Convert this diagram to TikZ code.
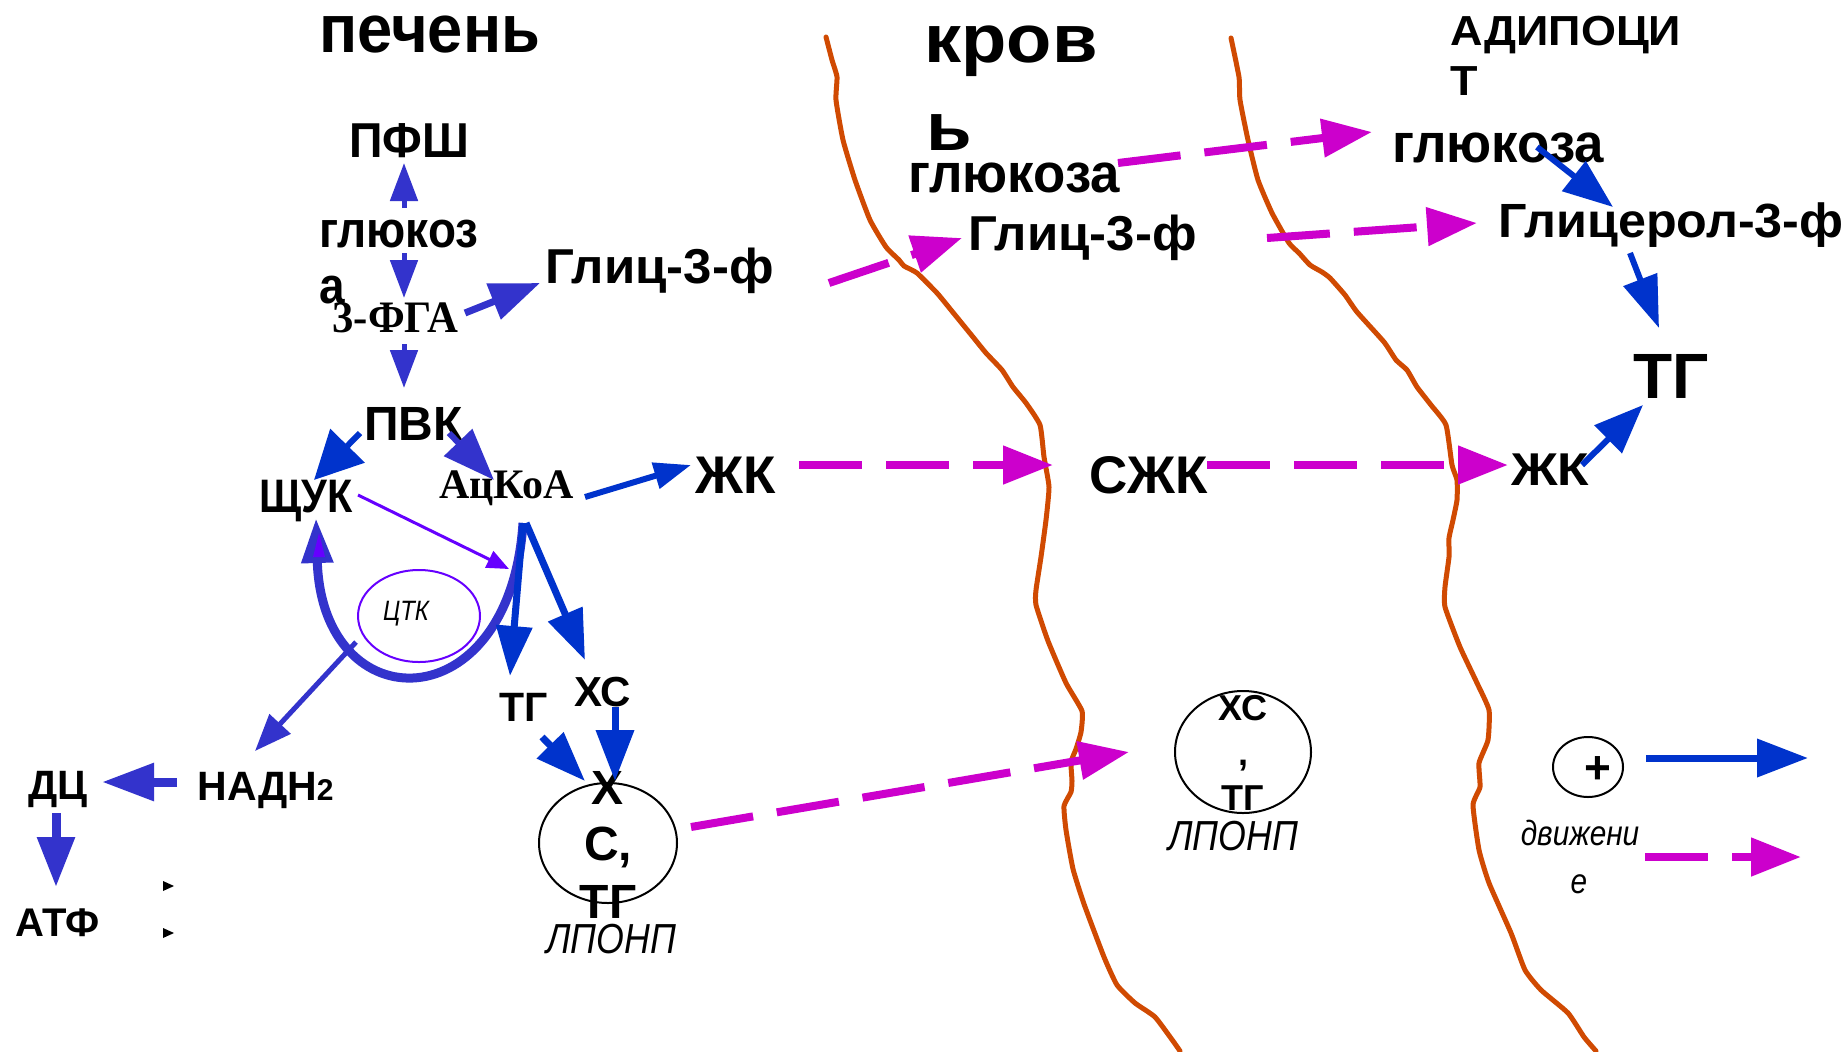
\documentclass[tikz,border=0pt]{standalone}
\usepackage{fontspec}
\setmainfont{Liberation Sans}
\newfontfamily\serifb{Liberation Serif}
\newfontfamily\hand[FakeStretch=0.85]{Liberation Sans}
\usetikzlibrary{arrows.meta,shapes.geometric,calc}
\definecolor{cA}{HTML}{3333CC}
\definecolor{cB}{HTML}{0033CC}
\definecolor{cV}{HTML}{6600FF}
\definecolor{cM}{HTML}{CC00CC}
\definecolor{cO}{HTML}{D04A02}
\newcommand\fsz[1]{\fontsize{#1}{#1}\selectfont}
\newcommand\hsc[2]{\scalebox{#1}[1]{#2}}
\begin{document}
\begin{tikzpicture}[x=0.5pt,y=-0.5pt,
  tx/.style={inner sep=0pt, anchor=base west, font=\bfseries\fsz{#1}},
  txc/.style={inner sep=0pt, anchor=base, font=\bfseries\fsz{#1}},
  sf/.style={inner sep=0pt, anchor=base west, font=\serifb\bfseries\fsz{#1}},
  hw/.style={inner sep=0pt, anchor=base west, font=\hand\itshape\fsz{#1}},
  arr/.style n args={4}{draw=#1, line width=#2, -{Triangle[length=#3,width=#4]}},
  dsh/.style={draw=cM, line width=4pt, dash pattern=on 31.5pt off 12pt, -{Triangle[length=25pt,width=18.5pt]}},
  memb/.style={draw=cO, line width=2.5pt, line join=round, line cap=round},
  ring/.style={draw, ellipse, inner sep=0pt, line width=1pt}
]
\fill[white] (0,0) rectangle (1848,1051);
\useasboundingbox (0,0) rectangle (1848,1051);

% membranes
\draw[memb] plot[smooth, tension=0.3] coordinates {(826,37) (832,60) (837,77) (836,100) (843,140) (855,180) (870,220) (886,247) (899,260) (904,266) (917,273) (937,293) (951,310) (973,337) (986,353) (1002,370) (1013,387) (1026,403) (1040,425) (1044,457) (1049,487) (1046,520) (1041,557) (1036,590) (1036,605) (1048,641) (1066,683) (1082,711) (1081,732) (1076,749) (1071,762) (1072,781) (1071,792) (1064,806) (1066,830) (1073,869) (1084,904) (1104,957) (1117,985) (1135,1003) (1155,1017) (1173,1041) (1180,1051)};
\draw[memb] plot[smooth, tension=0.3] coordinates {(1231,38) (1239,77) (1240,100) (1248,140) (1258,180) (1272,213) (1289,243) (1299,253) (1310,265) (1322,272) (1330,278) (1345,295) (1357,312) (1384,342) (1396,360) (1407,370) (1417,387) (1431,405) (1446,425) (1452,465) (1457,480) (1457,500) (1453,520) (1449,538) (1449,557) (1445,587) (1445,607) (1460,647) (1477,683) (1489,710) (1488,740) (1479,763) (1480,787) (1473,805) (1479,850) (1489,883) (1511,933) (1525,970) (1541,990) (1568,1013) (1584,1037) (1596,1051)};

% liver
\node[tx=34] (pech) at (319,52) {\hsc{0.93}{печень}};
\node[tx=24.5] (pfsh) at (349,157) {\hsc{0.95}{ПФШ}};
\node[tx=25.5] (glc) at (319,247) {\hsc{0.9}{глюкоз}};
\node[tx=25.5] (glcA) at (319,303) {\hsc{0.9}{а}};
\node[sf=22.5] (fga) at (332,332) {\hsc{0.95}{3-ФГА}};
\node[tx=24.5] (glic1) at (545,283) {\hsc{1.04}{Глиц-3-ф}};
\node[tx=24] (pvk) at (364,440) {ПВК};
\node[tx=23.5] (shchuk) at (259,512) {\hsc{0.88}{ЩУК}};
\node[sf=21] (ackoa) at (439,498) {АцКоА};
\node[tx=26.5] (zk1) at (695,493) {ЖК};
\node[tx=20.5] (tg1) at (499,721) {ТГ};
\node[tx=21] (xc1) at (574,706) {ХС};
\node[tx=20.5] (dc) at (28,799) {ДЦ};
\node[tx=20.5] (nadh) at (197,800) {НАДН{\fsz{15}2}};
\node[tx=20] (atf) at (15,936) {АТФ};
\node[ring, minimum width=69pt, minimum height=60pt] (c1) at (608,843) {};
\node[txc=24] (c1x) at (608,804) {Х};
\node[txc=24] (c1s) at (608,860) {С,};
\node[txc=24] (c1t) at (608,918) {ТГ};
\node[hw=21] (lp1) at (546,953) {ЛПОНП};
\node[ring, draw=cV, minimum width=61pt, minimum height=46pt] (ctk) at (419,616) {};
\node[inner sep=0pt, font=\hand\itshape\fsz{14}] (ctkt) at (406,614) {ЦТК};
\fill (163,881) -- (163,891) -- (174,886) -- cycle;
\fill (163,928) -- (163,938) -- (174,933) -- cycle;

% blood
\node[tx=34] (krov) at (924,62) {\hsc{1.09}{кров}};
\node[tx=34] (krovb) at (926,150) {\hsc{1.09}{ь}};
\node[tx=27.5] (glcb) at (908,192) {\hsc{0.96}{глюкоза}};
\node[tx=24.5] (glicb) at (968,250) {\hsc{1.04}{Глиц-3-ф}};
\node[tx=26.5] (szk) at (1089,493) {СЖК};
\node[ring, minimum width=68pt, minimum height=61pt] (c2) at (1243,752) {};
\node[txc=18] (c2x) at (1243,720) {ХС};
\node[txc=18] (c2c) at (1243,765) {,};
\node[txc=18] (c2t) at (1243,810) {ТГ};
\node[hw=21] (lp2) at (1168,850) {ЛПОНП};

% adipocyte
\node[tx=21] (adi) at (1450,45) {\hsc{1.07}{АДИПОЦИ}};
\node[tx=21] (adiT) at (1450,95) {\hsc{1.07}{Т}};
\node[tx=27.5] (glca) at (1392,162) {\hsc{0.96}{глюкоза}};
\node[tx=24] (glicer) at (1498,237) {\hsc{1.047}{Глицерол-3-ф}};
\node[tx=32] (tg2) at (1633,398) {ТГ};
\node[tx=23] (zk2) at (1511,485) {\hsc{1.12}{ЖК}};

% legend
\node[ring, minimum width=35pt, minimum height=30pt] (pc) at (1588,767) {};
\node[inner sep=0pt, font=\bfseries\fsz{23}] (pct) at (1598,770) {+};
\node[inner sep=0pt, anchor=base, font=\hand\itshape\fsz{17.5}] (mv1) at (1580,845) {движени};
\node[inner sep=0pt, anchor=base, font=\hand\itshape\fsz{17.5}] (mv2) at (1579,893) {е};
\coordinate (lgA) at (1808,758);
\coordinate (lgB) at (1801,857);

% liver connectors
\draw[arr={cA}{2.5pt}{19pt}{13.5pt}] ($(glc.base west)+(85,-39)$) -- ($(pfsh.base west)+(55,6)$);
\draw[arr={cA}{2.5pt}{19pt}{13.5pt}] ($(glc.base west)+(85,6)$) -- ($(fga.base west)+(72,-34)$);
\draw[arr={cA}{2.5pt}{19pt}{13.5pt}] ($(fga.base west)+(72,12)$) -- ($(pvk.base west)+(40,-52)$);
\draw[arr={cA}{3.5pt}{25pt}{18.5pt}] ($(fga.base west)+(133,-19)$) -- ($(glic1.base west)+(-5,0)$);
\draw[arr={cB}{3pt}{24pt}{23.5pt}] ($(pvk.base west)+(-4,-7)$) -- ($(shchuk.base west)+(55,-32)$);
\draw[arr={cA}{3pt}{26pt}{19pt}] ($(pvk.base west)+(85,-7)$) -- ($(ackoa.base west)+(55,-18)$);
\draw[arr={cB}{3pt}{18.5pt}{13pt}] ($(ackoa.base west)+(146,-1)$) -- ($(zk1.base west)+(-4,-28)$);
\coordinate (utop) at ($(ackoa.base west)+(84,25)$);
\draw[arr={cA}{4.5pt}{22.5pt}{15pt}] (utop) .. controls ($(utop)+(-13,200)$) and ($(utop)+(-201,200)$) .. ($(shchuk.base west)+(57,6)$) coordinate[pos=0.72] (uleft);
\fill[cV] (313,557) -- (325,557) -- (319,533) -- cycle;
\draw[arr={cV}{1.5pt}{11pt}{9pt}] ($(shchuk.base west)+(99,-17)$) -- ($(utop)+(-14,46)$);
\draw[arr={cA}{2.5pt}{18.5pt}{14pt}] (uleft) -- ($(nadh.base west)+(58,-49)$);
\draw[arr={cB}{3.5pt}{25pt}{17.5pt}] (utop) -- ($(tg1.base west)+(11,-45)$);
\draw[arr={cB}{3.5pt}{25pt}{18pt}] ($(utop)+(3,0)$) -- ($(xc1.base west)+(11,-46)$);
\draw[arr={cB}{3.5pt}{25pt}{18pt}] ($(tg1.base west)+(43,16)$) -- ($(c1)+(-23,-62)$);
\draw[arr={cB}{3.5pt}{25.5pt}{18.5pt}] ($(xc1.base west)+(41,1)$) -- ($(c1)+(7,-62)$);
\draw[arr={cA}{4.5pt}{26pt}{18pt}] ($(nadh.base west)+(-20,-18)$) -- ($(dc.base west)+(74,-17)$);
\draw[arr={cA}{4.5pt}{25pt}{18pt}] ($(dc.base west)+(28,14)$) -- ($(atf.base west)+(41,-49)$);

% transport (dashed)
\draw[dsh] ($(glic1.base west)+(284,0)$) -- ($(glicb.base west)+(-6,-12)$);
\draw[dsh] ($(glcb.base west)+(210,-29)$) -- ($(glca.base west)+(-20,-30)$);
\draw[dsh] ($(glicb.base west)+(299,-12)$) -- ($(glicer.base west)+(-21,-14)$);
\draw[dsh] ($(zk1.base west)+(104,-28)$) -- ($(szk.base west)+(-36,-28)$);
\draw[dsh] ($(szk.base west)+(118,-28)$) -- ($(zk2.base west)+(-3,-20)$);
\draw[dsh] ($(c1)+(83,-16)$) -- ($(c2)+(-114,0)$);

% adipocyte connectors
\draw[arr={cB}{3pt}{25pt}{18.5pt}] ($(glca.base west)+(145,-15)$) -- ($(glicer.base west)+(115,-30)$);
\draw[arr={cB}{3pt}{26pt}{17.5pt}] ($(glicer.base west)+(132,16)$) -- ($(tg2.base west)+(26,-70)$);
\draw[arr={cB}{3pt}{24.5pt}{19pt}] ($(zk2.base west)+(71,-20)$) -- ($(tg2.base west)+(10,7)$);

% legend arrows
\draw[arr={cB}{3.5pt}{25.5pt}{18.5pt}] ($(pc)+(58,-9)$) -- (lgA);
\draw[dsh] ($(pc)+(57,90)$) -- (lgB);
\end{tikzpicture}
\end{document}
